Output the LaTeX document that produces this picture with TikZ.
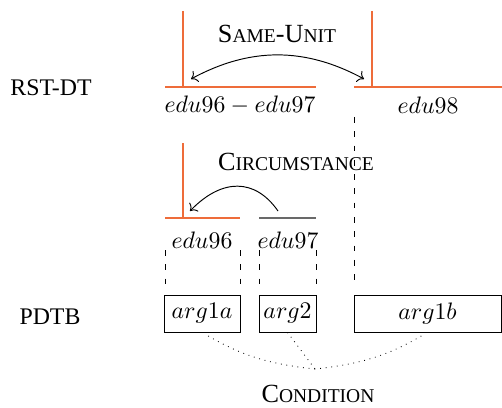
\documentclass[tikz,border=0pt]{standalone}
\usepackage{fontspec}
\setmainfont{Liberation Serif}
\usetikzlibrary{arrows.meta}
\definecolor{rstorange}{RGB}{238,108,58}
\definecolor{darkline}{RGB}{105,105,105}
\newcommand{\fsc}[2]{#1{\fontsize{8.2}{9}\selectfont #2}}
\tikzset{
  lbl/.style={inner sep=0pt, font=\fontsize{10}{12}\selectfont},
  sclbl/.style={inner sep=0pt, font=\fontsize{11}{13}\selectfont},
  edu/.style={inner sep=0pt},
  argbox/.style={draw, line width=0.35pt, inner sep=0pt, minimum height=37*0.42pt},
  tree/.style={draw=rstorange, line width=0.85pt},
  grayseg/.style={draw=darkline, line width=0.7pt},
  dashv/.style={draw, line width=0.35pt, dash pattern=on 2.4pt off 3.6pt},
  dotc/.style={draw, line width=0.35pt, dotted},
  rel/.style={draw, line width=0.4pt}
}
\begin{document}
\begin{tikzpicture}[x=0.42pt, y=-0.42pt]
\useasboundingbox (0,0) rectangle (502,407);
% labels
\node[lbl] (rst) at (51,88) {RST-DT};
\node[lbl] (pdtb) at (50,317) {PDTB};
\node[sclbl] (su) at (277,34) {\fsc{S}{AME}-\fsc{U}{NIT}};
\node[sclbl] (circ) at (296,162) {\fsc{C}{IRCUMSTANCE}};
\node[sclbl] (cond) at (318,394) {\fsc{C}{ONDITION}};
% edus
\node[edu] (e9697) at (240,105) {$edu96-edu97$};
\node[edu] (e98) at (428,105) {$edu98$};
\node[edu] (e96) at (202,240) {$edu96$};
\node[edu] (e97) at (288,240) {$edu97$};
% arg boxes
\node[argbox, minimum width=76*0.42pt] (a1a) at (202,313.5) {$arg1a$};
\node[argbox, minimum width=57*0.42pt] (a2) at (287.5,313.5) {$arg2$};
\node[argbox, minimum width=147*0.42pt] (a1b) at (427.5,313.5) {$arg1b$};
% top level tree
\coordinate (t1a) at (183,11);
\coordinate (t1b) at (183,87);
\coordinate (t2a) at (372,11);
\coordinate (t2b) at (372,87);
\coordinate (h1l) at (165,87);
\coordinate (h1r) at (316,87);
\coordinate (h2l) at (354,87);
\coordinate (h2r) at (502,87);
\draw[tree] (t1a) -- (t1b);
\draw[tree] (t2a) -- (t2b);
\draw[tree] (h1l) -- (h1r);
\draw[tree] (h2l) -- (h2r);
\coordinate (sul) at (191,79);
\coordinate (sur) at (364,79);
\draw[rel, <->] (sul) .. controls (250,47) and (305,47) .. (sur);
% second level tree
\coordinate (s1a) at (183,143);
\coordinate (s1b) at (183,218);
\coordinate (g1l) at (165,218);
\coordinate (g1r) at (240,218);
\coordinate (g2l) at (259,218);
\coordinate (g2r) at (316,218);
\draw[tree] (s1a) -- (s1b);
\draw[tree] (g1l) -- (g1r);
\draw[grayseg] (g2l) -- (g2r);
\coordinate (cs) at (278,211);
\coordinate (ce) at (190,211);
\draw[rel, ->] (cs) .. controls (255,178) and (222,178) .. (ce);
% dashed alignment lines
\coordinate (d1) at (165,250);
\coordinate (d2) at (240,250);
\coordinate (d3) at (259,250);
\coordinate (d4) at (316,250);
\coordinate (d5) at (354,117);
\draw[dashv, shorten >=3pt] (d1) -- (d1 |- a1a.north);
\draw[dashv, shorten >=3pt] (d2) -- (d2 |- a1a.north);
\draw[dashv, shorten >=3pt] (d3) -- (d3 |- a2.north);
\draw[dashv, shorten >=3pt] (d4) -- (d4 |- a2.north);
\draw[dashv, shorten >=3pt] (d5) -- (d5 |- a1b.north);
% condition links
\coordinate (m) at (315,369);
\draw[dotc, shorten <=3pt] (a1a.south) to[bend right=12] (m);
\draw[dotc] (a2.south) -- (m);
\draw[dotc, shorten <=3pt] (a1b.south) to[bend left=12] (m);
\end{tikzpicture}
\end{document}
